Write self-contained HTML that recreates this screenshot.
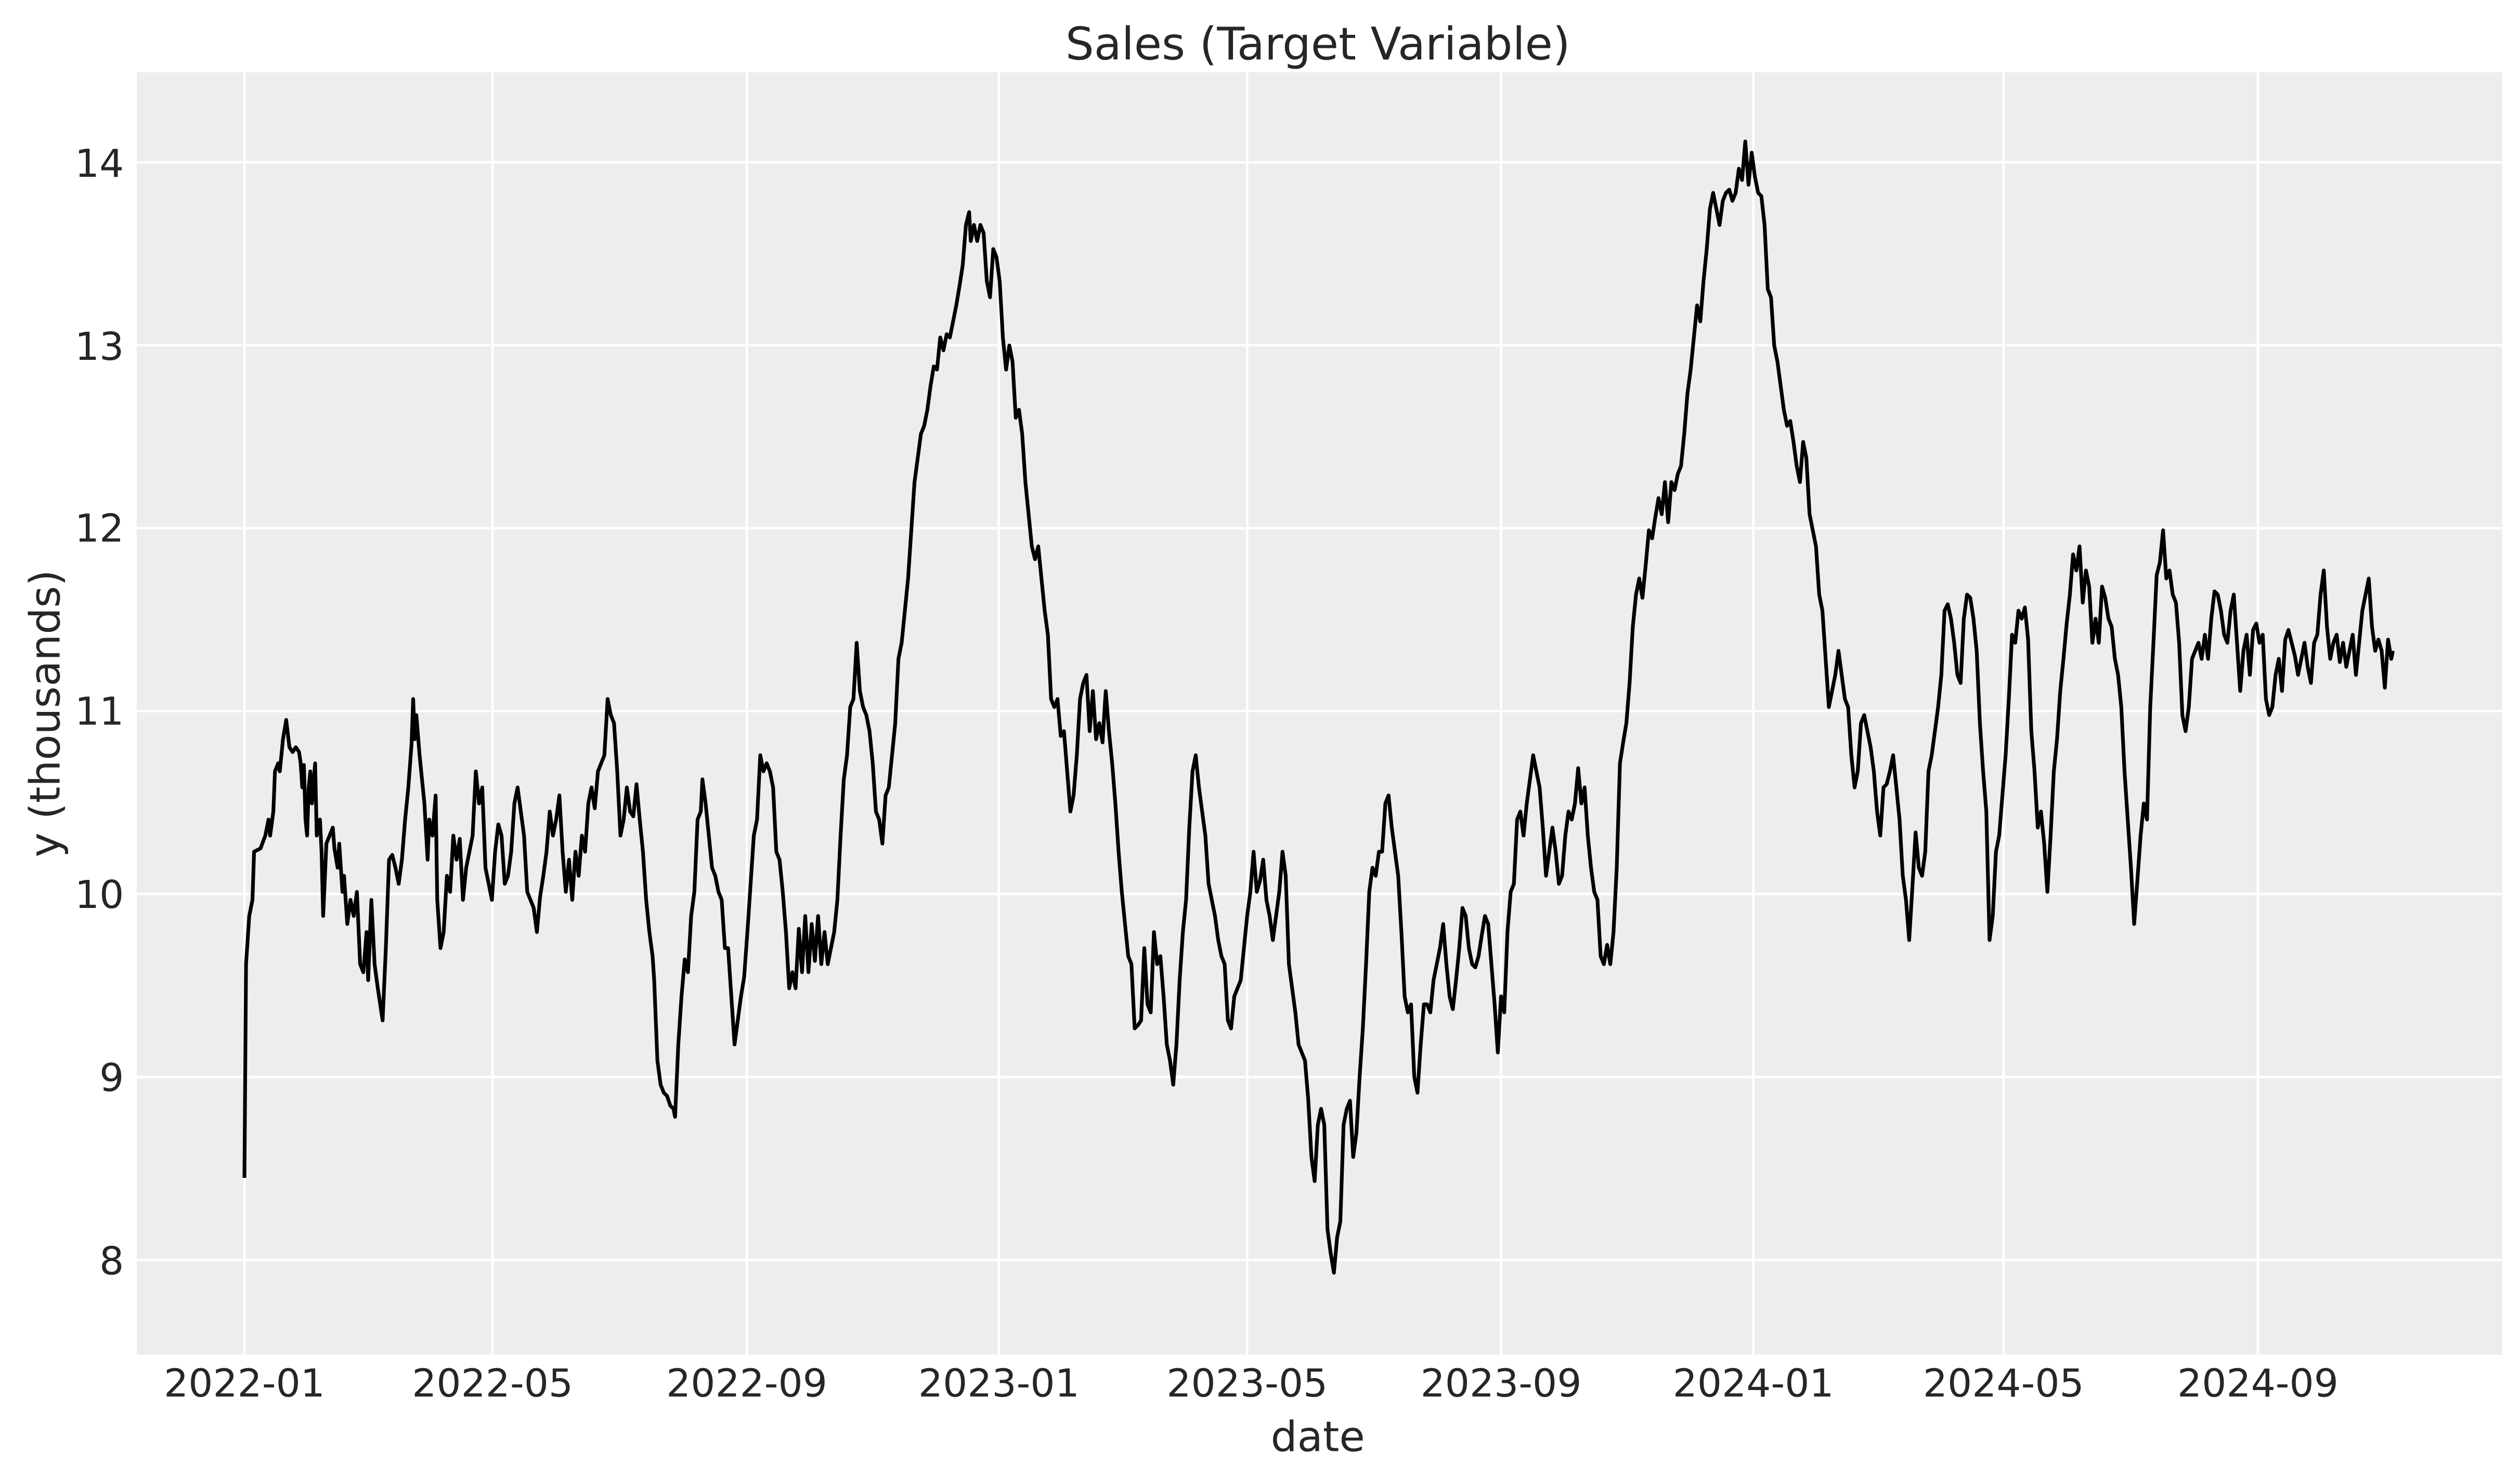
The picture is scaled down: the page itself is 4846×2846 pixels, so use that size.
<!DOCTYPE html>
<html><head><meta charset="utf-8"><style>html,body{margin:0;padding:0;background:#fff}svg{display:block}</style></head><body>
<svg width="4846" height="2846" viewBox="0 0 1568 921" xmlns="http://www.w3.org/2000/svg" font-family="'DejaVu Sans','Liberation Sans',sans-serif" fill="#262626">
<rect x="0" y="0" width="1568" height="921" fill="#fff"/>
<rect x="85" y="45" width="1472" height="798" fill="#ededed"/>
<g stroke="#fff" stroke-width="1.5">
<line x1="152" y1="45" x2="152" y2="843"/><line x1="306.4" y1="45" x2="306.4" y2="843"/><line x1="464.6" y1="45" x2="464.6" y2="843"/><line x1="621.5" y1="45" x2="621.5" y2="843"/><line x1="776" y1="45" x2="776" y2="843"/><line x1="934" y1="45" x2="934" y2="843"/><line x1="1091" y1="45" x2="1091" y2="843"/><line x1="1246.7" y1="45" x2="1246.7" y2="843"/><line x1="1405" y1="45" x2="1405" y2="843"/>
<line x1="85" y1="101" x2="1557" y2="101"/><line x1="85" y1="214.8" x2="1557" y2="214.8"/><line x1="85" y1="328.7" x2="1557" y2="328.7"/><line x1="85" y1="442.5" x2="1557" y2="442.5"/><line x1="85" y1="556.3" x2="1557" y2="556.3"/><line x1="85" y1="670.2" x2="1557" y2="670.2"/><line x1="85" y1="784" x2="1557" y2="784"/>
</g>
<polyline fill="none" stroke="#000" stroke-width="2.3" stroke-linejoin="round" points="152,733 153,600 155,570 157,560 158,530 162,528 165,520 167,510 168,520 170,505 171,480 173,475 174,480 176,460 178,448 180,465 182,468 184,465 186,468 187,475 188,490 189,476 190,510 191,520 192,490 193,480 194,500 196,475 197,520 199,510 200,530 201,570 203,525 205,520 207,515 208,528 210,540 211,525 213,555 214,545 216,575 218,560 220,570 222,555 224,600 226,605 228,580 229,610 231,560 233,600 235,615 238,635 240,590 242,535 244,532 246,540 248,550 250,535 252,510 254,490 256,463 257,435 258,460 259,445 261,470 263,490 264,500 266,535 267,510 269,520 271,495 272,560 274,590 276,580 278,545 280,555 282,520 284,535 286,522 288,560 290,540 292,530 294,520 296,480 298,500 300,490 302,540 304,550 306,560 308,530 310,513 312,520 314,550 316,545 318,530 320,500 322,490 324,505 326,520 328,555 330,560 332,565 334,580 336,558 338,545 340,530 342,505 344,520 346,510 348,495 350,530 352,555 354,535 356,560 358,530 360,545 362,520 364,530 366,500 368,490 370,503 372,480 374,475 376,470 378,435 380,445 382,450 384,480 386,520 388,510 390,490 392,505 394,508 396,488 398,510 400,530 402,560 404,580 406,595 407,610 409,660 411,675 413,680 415,682 417,688 419,690 420,695 422,650 424,620 426,597 428,605 430,570 432,555 434,510 436,505 437,485 439,500 441,520 443,540 445,545 447,555 449,560 451,590 453,590 455,620 457,650 459,635 461,620 463,608 465,580 467,550 469,520 471,510 473,470 475,480 477,475 479,480 481,490 483,530 485,535 487,555 489,580 491,615 493,605 495,615 497,578 499,605 501,570 503,605 505,575 507,598 509,570 511,600 513,580 515,600 517,590 519,580 521,560 523,520 525,485 527,470 529,440 531,435 533,400 535,430 537,440 539,445 541,455 543,475 545,505 547,510 549,525 551,495 553,490 555,470 557,450 559,410 561,400 563,380 565,360 567,330 569,300 571,285 573,270 575,265 577,255 579,240 581,228 583,230 585,210 587,218 589,208 591,210 593,200 595,190 597,178 599,165 601,140 603,132 604,150 606,140 608,150 610,140 612,145 614,175 616,185 618,155 620,160 622,175 624,210 626,230 628,215 630,225 632,260 634,255 636,270 638,300 640,320 642,340 644,348 646,340 648,360 650,380 652,395 654,435 656,440 658,435 660,458 662,455 664,480 666,505 668,495 670,470 672,435 674,425 676,420 678,455 680,430 682,460 684,450 686,462 688,430 690,455 692,475 694,500 696,530 698,555 700,575 702,595 704,600 706,640 708,638 710,635 712,590 714,625 716,630 718,580 720,600 722,595 724,620 726,650 728,660 730,675 732,650 734,610 736,580 738,560 740,515 742,480 744,470 746,490 748,505 750,520 752,550 754,560 756,570 758,585 760,595 762,600 764,635 766,640 768,620 770,615 772,610 774,590 776,570 778,555 780,530 782,555 784,548 786,535 788,560 790,570 792,585 794,570 796,555 798,530 800,545 802,600 804,615 806,630 808,650 810,655 812,660 814,684 816,720 818,735 820,700 822,690 824,700 826,765 828,780 830,792 832,770 834,760 836,700 838,690 840,685 842,720 844,705 846,670 848,640 850,600 852,555 854,540 856,545 858,530 860,530 862,500 864,495 866,515 868,530 870,545 872,580 874,620 876,630 878,625 880,670 882,680 884,650 886,625 888,625 890,630 892,610 894,600 896,590 898,575 900,600 902,620 904,628 906,610 908,590 910,565 912,570 914,590 916,600 918,602 920,595 922,582 924,570 926,575 928,600 930,625 932,655 934,620 936,630 938,580 940,555 942,550 944,510 946,505 948,520 950,500 952,485 954,470 956,480 958,490 960,515 962,545 964,530 966,515 968,530 970,550 972,545 974,520 976,505 978,510 980,500 982,478 984,500 986,490 988,520 990,540 992,555 994,560 996,595 998,600 1000,588 1002,600 1004,580 1006,540 1008,475 1010,462 1012,450 1014,425 1016,390 1018,370 1020,360 1022,372 1024,352 1026,330 1028,335 1030,322 1032,310 1034,320 1036,300 1038,325 1040,300 1042,305 1044,295 1046,290 1048,270 1050,245 1052,230 1054,210 1056,190 1058,200 1060,175 1062,155 1064,130 1066,120 1068,130 1070,140 1072,125 1074,120 1076,118 1078,125 1080,120 1082,105 1084,112 1086,88 1088,115 1090,95 1092,110 1094,120 1096,122 1098,140 1100,180 1102,185 1104,215 1106,225 1108,240 1110,255 1112,265 1114,262 1116,275 1118,290 1120,300 1122,275 1124,285 1126,320 1128,330 1130,340 1132,370 1134,380 1136,410 1138,440 1140,430 1142,420 1144,405 1146,420 1148,435 1150,440 1152,470 1154,490 1156,480 1158,450 1160,445 1162,455 1164,465 1166,480 1168,505 1170,520 1172,490 1174,488 1176,480 1178,470 1180,490 1182,510 1184,545 1186,560 1188,585 1190,552 1192,518 1194,540 1196,545 1198,530 1200,480 1202,470 1204,455 1206,440 1208,420 1210,380 1212,376 1214,385 1216,400 1218,420 1220,425 1222,385 1224,370 1226,372 1228,385 1230,405 1232,450 1234,480 1236,505 1238,585 1240,570 1242,530 1244,520 1246,495 1248,470 1250,435 1252,395 1254,400 1256,380 1258,385 1260,378 1262,398 1264,455 1266,480 1268,515 1270,505 1272,525 1274,555 1276,520 1278,480 1280,460 1282,430 1284,410 1286,388 1288,370 1290,345 1292,355 1294,340 1296,375 1298,355 1300,365 1302,400 1304,385 1306,400 1308,365 1310,372 1312,385 1314,390 1316,410 1318,420 1320,440 1322,480 1324,510 1326,540 1328,575 1330,548 1332,520 1334,500 1336,510 1338,440 1340,400 1342,358 1344,350 1346,330 1348,360 1350,355 1352,370 1354,375 1356,400 1358,445 1360,455 1362,440 1364,410 1366,405 1368,400 1370,410 1372,395 1374,410 1376,385 1378,368 1380,370 1382,380 1384,395 1386,400 1388,380 1390,370 1392,400 1394,430 1396,405 1398,395 1400,420 1402,392 1404,388 1406,400 1408,395 1410,435 1412,445 1414,440 1416,420 1418,410 1420,430 1422,398 1424,392 1426,400 1428,408 1430,420 1432,410 1434,400 1436,415 1438,425 1440,400 1442,395 1444,370 1446,355 1448,390 1450,410 1452,400 1454,395 1456,412 1458,400 1460,415 1462,405 1464,395 1466,420 1468,400 1470,380 1472,370 1474,360 1476,390 1478,405 1480,398 1482,405 1484,428 1486,398 1488,410 1489,405"/>
<g font-size="24" text-anchor="middle">
<text x="152" y="869">2022-01</text><text x="306.4" y="869">2022-05</text><text x="464.6" y="869">2022-09</text><text x="621.5" y="869">2023-01</text><text x="776" y="869">2023-05</text><text x="934" y="869">2023-09</text><text x="1091" y="869">2024-01</text><text x="1246.7" y="869">2024-05</text><text x="1405" y="869">2024-09</text>
</g>
<g font-size="24" text-anchor="end">
<text x="77" y="110">14</text><text x="77" y="224">13</text><text x="77" y="337">12</text><text x="77" y="451">11</text><text x="77" y="565">10</text><text x="77" y="679">9</text><text x="77" y="793">8</text>
</g>
<text x="820" y="903" font-size="26" text-anchor="middle">date</text>
<text x="820" y="37" font-size="28" text-anchor="middle">Sales (Target Variable)</text>
<text transform="translate(37,444) rotate(-90)" font-size="26" text-anchor="middle">y (thousands)</text>
</svg>
</body></html>
